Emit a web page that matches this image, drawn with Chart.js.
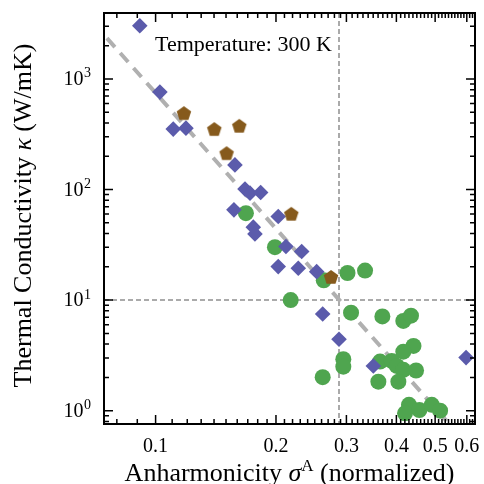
<!DOCTYPE html>
<html>
<head>
<meta charset="utf-8">
<script src="https://cdn.jsdelivr.net/npm/chart.js@4.4.1/dist/chart.umd.min.js"></script>
<style>
html, body { margin: 0; padding: 0; background: #fff; }
#wrap { width: 484px; height: 484px; }
</style>
</head>
<body>
<div id="wrap"><canvas id="kappa-chart" width="484" height="484"></canvas></div>
<script>
// anharmonicity (x) vs thermal conductivity (y)
var diamondSigma = [0.0913, 0.1025, 0.1107, 0.1191, 0.1579, 0.1673, 0.1722, 0.1831, 0.157, 0.2026, 0.1755,
    0.1772, 0.2118, 0.2319, 0.2026, 0.2274, 0.2528, 0.2617, 0.2875, 0.3503, 0.5975];
var diamondKappa = [3030, 761, 352, 359, 167, 101, 92.8, 94, 65.5, 57, 45.7,
    39.7, 30.5, 27.5, 20.1, 19.4, 18.1, 7.5, 4.43, 2.54, 3.02];

var pentagonSigma = [0.1177, 0.1402, 0.1619, 0.1505, 0.2184, 0.2746];
var pentagonKappa = [491, 352, 377, 213, 60.3, 16.2];

var circleSigma = [0.1682, 0.1988, 0.2177, 0.2633, 0.3019, 0.334, 0.3081, 0.369, 0.4163, 0.4351, 0.4414,
    0.4163, 0.2947, 0.2947, 0.3641, 0.3894, 0.4009, 0.4163, 0.448, 0.2617, 0.3606, 0.4046,
    0.4301, 0.4204, 0.4566, 0.4904, 0.5145];
var circleKappa = [61.1, 30.1, 10.0, 15.1, 17.6, 18.5, 7.7, 7.12, 6.48, 7.24, 3.85,
    3.42, 2.92, 2.50, 2.78, 2.82, 2.54, 2.34, 2.31, 2.01, 1.83, 1.83,
    1.13, 0.947, 1.015, 1.13, 1.0];

// dashed fit line end points
var fitSigma = [0.07, 0.62];
var fitKappa = [3200, 0.44];

// dotted guide lines
var refSigma = 0.2875;
var refKappa = 10;

var xTickValues = [0.1, 0.2, 0.3, 0.4, 0.5, 0.6];
var xTickLabels = ['0.1', '0.2', '0.3', '0.4', '0.5', '0.6'];
var yTickValues = [1, 10, 100, 1000];
var yTickExps = ['0', '1', '2', '3'];

var xRange = [0.0743, 0.629];
var yRange = [0.758, 3950];

var SERIF = "'Liberation Serif', 'Times New Roman', serif";

function toPoints(xs, ys) {
    return xs.map(function (x, i) { return { x: x, y: ys[i] }; });
}

function makePentagon(color, r) {
    var size = 18;
    var c = document.createElement('canvas');
    c.width = size;
    c.height = size;
    var g = c.getContext('2d');
    g.fillStyle = color;
    g.beginPath();
    for (var i = 0; i < 5; i++) {
        var a = -Math.PI / 2 + i * 2 * Math.PI / 5;
        var px = size / 2 + r * Math.cos(a);
        var py = size / 2 + 0.7 + r * Math.sin(a);
        if (i === 0) g.moveTo(px, py); else g.lineTo(px, py);
    }
    g.closePath();
    g.fill();
    return c;
}

// text pieces with their own font / raise
function drawRich(ctx, parts, cx, baseY, rotate) {
    ctx.save();
    ctx.translate(cx, baseY);
    if (rotate) ctx.rotate(-Math.PI / 2);
    var total = 0;
    parts.forEach(function (p) { ctx.font = p.f; total += ctx.measureText(p.t).width; });
    var x = -total / 2;
    ctx.textBaseline = 'alphabetic';
    ctx.textAlign = 'left';
    ctx.fillStyle = '#000';
    parts.forEach(function (p) {
        ctx.font = p.f;
        ctx.fillText(p.t, x, -(p.dy || 0));
        x += ctx.measureText(p.t).width;
    });
    ctx.restore();
}

var framePlugin = {
    id: 'frame',
    beforeDatasetsDraw: function (chart) {
        var ctx = chart.ctx, area = chart.chartArea;
        var xs = chart.scales.x, ys = chart.scales.y;
        ctx.save();
        ctx.strokeStyle = '#aaaaaa';
        ctx.lineWidth = 2;
        ctx.setLineDash([5, 3]);
        var hy = Math.round(ys.getPixelForValue(refKappa));
        ctx.beginPath();
        ctx.moveTo(area.left, hy);
        ctx.lineTo(area.right, hy);
        ctx.stroke();
        var vx = Math.round(xs.getPixelForValue(refSigma));
        ctx.beginPath();
        ctx.moveTo(vx, area.top);
        ctx.lineTo(vx, area.bottom);
        ctx.stroke();
        ctx.restore();
    },
    afterDatasetsDraw: function (chart) {
        var ctx = chart.ctx, area = chart.chartArea;
        var xs = chart.scales.x, ys = chart.scales.y;
        ctx.save();
        ctx.strokeStyle = '#000';
        ctx.lineWidth = 1.5;

        // x ticks (bottom and top), 0.08 .. 0.62
        for (var k = 8; k <= 62; k++) {
            var v = k / 100;
            var px = xs.getPixelForValue(v);
            if (px < area.left + 1 || px > area.right - 1) continue;
            var len = (k % 10 === 0) ? 9 : 5;
            ctx.beginPath();
            ctx.moveTo(px, area.bottom);
            ctx.lineTo(px, area.bottom - len);
            ctx.moveTo(px, area.top);
            ctx.lineTo(px, area.top + len);
            ctx.stroke();
        }
        // y ticks (left and right)
        for (var d = -1; d <= 3; d++) {
            for (var m = 1; m <= 9; m++) {
                var val = m * Math.pow(10, d);
                var py = ys.getPixelForValue(val);
                if (py < area.top + 1 || py > area.bottom - 1) continue;
                var l = (m === 1) ? 9 : 5;
                ctx.beginPath();
                ctx.moveTo(area.left, py);
                ctx.lineTo(area.left + l, py);
                ctx.moveTo(area.right, py);
                ctx.lineTo(area.right - l, py);
                ctx.stroke();
            }
        }
        // frame
        ctx.lineWidth = 2;
        ctx.strokeRect(area.left, area.top, area.right - area.left, area.bottom - area.top);

        // y tick labels 10^n
        ctx.fillStyle = '#000';
        ctx.textBaseline = 'alphabetic';
        yTickValues.forEach(function (v, i) {
            var py = ys.getPixelForValue(v);
            var right = area.left - 13;
            ctx.font = '14px ' + SERIF;
            var ew = ctx.measureText(yTickExps[i]).width;
            ctx.textAlign = 'left';
            ctx.fillText(yTickExps[i], right - ew, py - 1.5);
            ctx.font = '20px ' + SERIF;
            ctx.textAlign = 'right';
            ctx.fillText('10', right - ew - 0.5, py + 6);
        });

        // annotation
        ctx.textAlign = 'left';
        ctx.font = '22px ' + SERIF;
        ctx.fillText('Temperature: 300 K', area.left + 51, area.top + 38);

        // axis titles
        var cx = (area.left + area.right) / 2;
        drawRich(ctx, [
            { t: 'Anharmonicity ', f: '26px ' + SERIF },
            { t: '\u03C3', f: 'italic 26px ' + SERIF },
            { t: 'A', f: '17px ' + SERIF, dy: 10 },
            { t: ' (normalized)', f: '26px ' + SERIF }
        ], cx, 481, false);
        var cy = (area.top + area.bottom) / 2 - 3;
        drawRich(ctx, [
            { t: 'Thermal Conductivity ', f: '26px ' + SERIF },
            { t: '\u03BA', f: 'italic 26px ' + SERIF },
            { t: ' (W/mK)', f: '26px ' + SERIF }
        ], 31, cy, true);
        ctx.restore();
    }
};

var ctx = document.getElementById('kappa-chart').getContext('2d');
var kappaChart = new Chart(ctx, {
    type: 'scatter',
    data: {
        datasets: [
            {
                label: 'pentagons',
                data: toPoints(pentagonSigma, pentagonKappa),
                pointStyle: makePentagon('#865a1c', 7.6),
                backgroundColor: '#865a1c'
            },
            {
                label: 'diamonds',
                data: toPoints(diamondSigma, diamondKappa),
                pointStyle: 'rectRot',
                pointRadius: 7.8,
                pointBorderWidth: 0,
                backgroundColor: '#5b5bab'
            },
            {
                label: 'circles',
                data: toPoints(circleSigma, circleKappa),
                pointStyle: 'circle',
                pointRadius: 8,
                pointBorderWidth: 0,
                backgroundColor: '#4fa54f'
            },
            {
                type: 'line',
                label: 'fit',
                data: toPoints(fitSigma, fitKappa),
                showLine: true,
                pointRadius: 0,
                borderColor: '#b0b0b0',
                borderWidth: 4,
                borderDash: [12, 8],
                clip: 0
            }
        ]
    },
    options: {
        responsive: false,
        animation: false,
        devicePixelRatio: 1,
        layout: { padding: { top: 13, right: 9, left: 0, bottom: 0 } },
        plugins: {
            legend: { display: false },
            tooltip: { enabled: false }
        },
        scales: {
            x: {
                type: 'logarithmic',
                min: xRange[0],
                max: xRange[1],
                grid: { display: false, drawTicks: false },
                border: { display: false },
                afterBuildTicks: function (scale) {
                    scale.ticks = xTickValues.map(function (v) { return { value: v }; });
                },
                afterFit: function (scale) {
                    scale.height = 60;
                    scale.paddingLeft = 0;
                    scale.paddingRight = 0;
                },
                ticks: {
                    autoSkip: false,
                    maxRotation: 0,
                    padding: 11,
                    color: '#000',
                    font: { family: SERIF, size: 20 },
                    callback: function (value, index) { return xTickLabels[index]; }
                }
            },
            y: {
                type: 'logarithmic',
                min: yRange[0],
                max: yRange[1],
                grid: { display: false, drawTicks: false },
                border: { display: false },
                afterBuildTicks: function (scale) {
                    scale.ticks = yTickValues.map(function (v) { return { value: v }; });
                },
                afterFit: function (scale) {
                    scale.width = 104;
                    scale.paddingTop = 0;
                    scale.paddingBottom = 0;
                },
                ticks: { display: false }
            }
        }
    },
    plugins: [framePlugin]
});
</script>
</body>
</html>
